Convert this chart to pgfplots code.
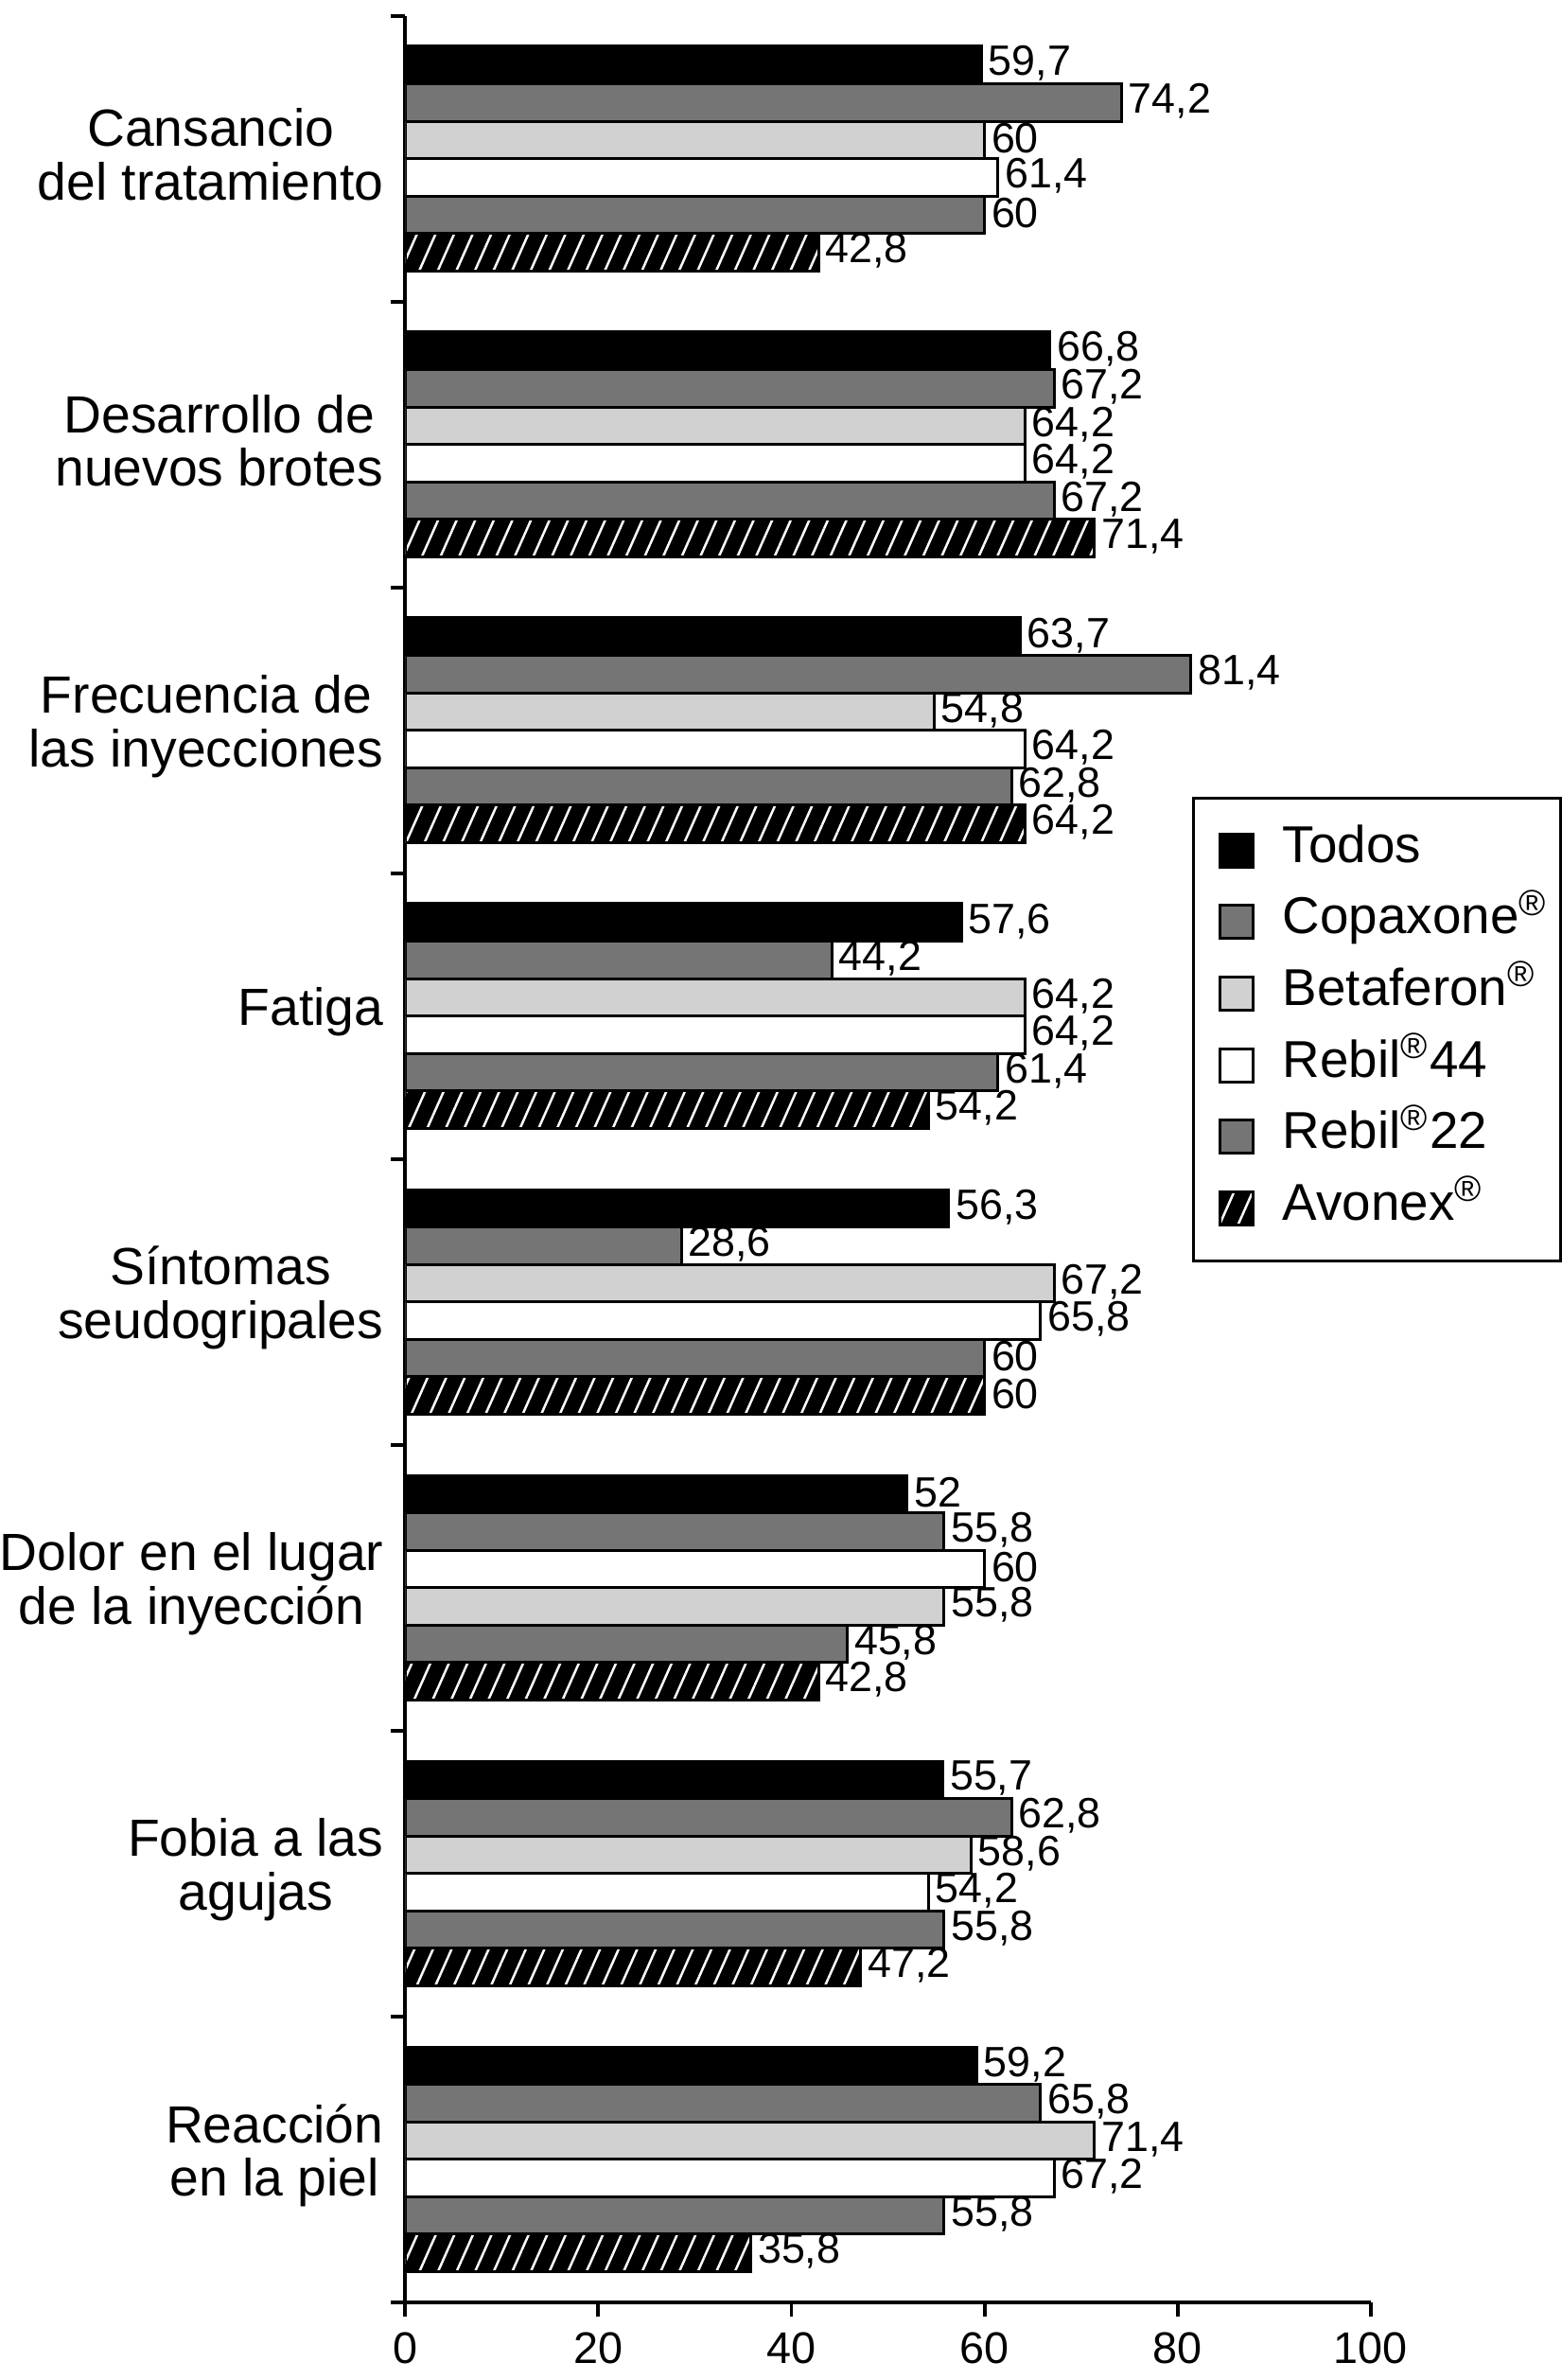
\documentclass[border=0pt]{standalone}
\usepackage{pgfplots}
\pgfplotsset{compat=1.18}
\usepackage{fontspec}
\setmainfont{Liberation Sans}
\usetikzlibrary{patterns.meta}
\definecolor{dgray}{gray}{0.46}
\definecolor{lgray}{gray}{0.82}
\tikzset{
  todos/.style={fill=black,draw=black,line width=0.6pt},
  copax/.style={fill=dgray,draw=black,line width=0.6pt},
  beta/.style={fill=lgray,draw=black,line width=0.6pt},
  rebA/.style={fill=white,draw=black,line width=0.6pt},
  rebB/.style={fill=dgray,draw=black,line width=0.6pt},
  avon/.style={fill=black,draw=black,line width=0.6pt,
     postaction={pattern={Lines[angle=66,distance=3.6pt,line width=0.5pt]},pattern color=white}},
}
\newcommand{\reg}{\textsuperscript{\textregistered}}
\begin{document}
\begin{tikzpicture}
\begin{axis}[
  scale only axis, width=205pt, height=485.4pt,
  xbar, bar width=0.131,
  xmin=0, xmax=100, ymin=-0.5, ymax=7.5, y dir=reverse,
  axis x line*=bottom, axis y line*=left,
  axis line style={line width=0.8pt, black},
  tick align=outside, major tick length=3pt,
  tick style={black, line width=0.8pt},
  xtick={0,20,...,100},
  xticklabel style={font=\fontsize{9.4}{11}\selectfont},
  ytick={-0.5,0.5,...,7.5}, yticklabels={},
  extra y ticks={0,1,2,3,4,5,6,7},
  extra y tick labels={{Cansancio\\del tratamiento},{Desarrollo de\\nuevos brotes},{Frecuencia de\\las inyecciones},{Fatiga},{Síntomas\\seudogripales},{Dolor en el lugar\\de la inyección},{Fobia a las\\agujas},{Reacción\\en la piel}},
  extra y tick style={major tick length=0pt, tick label style={align=center, inner xsep=0pt, xshift=-4.4pt, yshift=0.8pt, font=\fontsize{11.1}{11.4}\selectfont}},
  /pgf/number format/.cd, use comma, fixed, precision=1, assume math mode=true,
  /pgfplots/.cd,
  nodes near coords,
  every node near coord/.append style={font=\fontsize{9}{10}\selectfont, text=black, fill=none, draw=none, inner xsep=1.2pt, inner ysep=0pt, yshift=0.3pt},
  legend cell align=left,
  legend image code/.code={\path (0pt,0pt); \draw[#1] (2.8pt,-3.5pt) rectangle (9.8pt,3.5pt);},
  legend style={at={(0.8148,0.6584)}, anchor=north west, draw=black, line width=0.6pt,
     font=\fontsize{11}{13}\selectfont, row sep=0pt, inner xsep=2.6pt, inner ysep=3.5pt,
     nodes={inner xsep=0pt, inner ysep=2.6pt, text height=0.75em, text depth=0.25em},
     /tikz/every odd column/.append style={column sep=6pt}},
]
\addplot[todos, bar shift=-0.3275] coordinates {(59.7,0) (66.8,1) (63.7,2) (57.6,3) (56.3,4) (52,5) (55.7,6) (59.2,7)};
\addlegendentry{Todos}
\addplot[copax, bar shift=-0.1965] coordinates {(74.2,0) (67.2,1) (81.4,2) (44.2,3) (28.6,4) (55.8,5) (62.8,6) (65.8,7)};
\addlegendentry{Copaxone\reg}
\addplot[beta, bar shift=-0.0655] coordinates {(60,0) (64.2,1) (54.8,2) (64.2,3) (67.2,4) (58.6,6) (71.4,7)};
\addlegendentry{Betaferon\reg}
\addplot[rebA, bar shift=0.0655] coordinates {(61.4,0) (64.2,1) (64.2,2) (64.2,3) (65.8,4) (54.2,6) (67.2,7)};
\addlegendentry{Rebil\reg 44}
\addplot[rebB, bar shift=0.1965] coordinates {(60,0) (67.2,1) (62.8,2) (61.4,3) (60,4) (45.8,5) (55.8,6) (55.8,7)};
\addlegendentry{Rebil\reg 22}
\addplot[avon, bar shift=0.3275] coordinates {(42.8,0) (71.4,1) (64.2,2) (54.2,3) (60,4) (42.8,5) (47.2,6) (35.8,7)};
\addlegendentry{Avonex\reg}
% Dolor group: the white bar comes before the light grey one
\addplot[rebA, bar shift=-0.0655, forget plot] coordinates {(60,5)};
\addplot[beta, bar shift=0.0655, forget plot] coordinates {(55.8,5)};
\end{axis}
\end{tikzpicture}
\end{document}
